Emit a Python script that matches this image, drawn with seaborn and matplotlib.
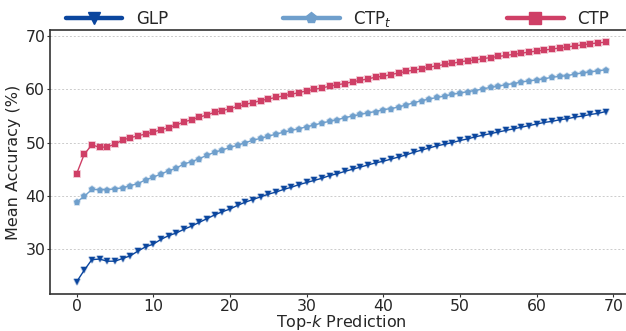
import numpy as np
import pandas as pd
import matplotlib
matplotlib.use("Agg")
import matplotlib.pyplot as plt
from matplotlib.lines import Line2D
import seaborn as sns

k = list(range(70))
glp = [23.8, 26.0, 28.0, 28.1, 27.7, 27.7, 28.2, 28.7, 29.6, 30.4,
       30.9, 31.8, 32.5, 33.0, 33.7, 34.3, 35.0, 35.7, 36.4, 37.0,
       37.5, 38.2, 38.8, 39.3, 39.8, 40.3, 40.7, 41.2, 41.6, 42.1,
       42.5, 42.9, 43.3, 43.8, 44.15, 44.6, 45.0, 45.4, 45.8, 46.2,
       46.5, 46.9, 47.3, 47.7, 48.2, 48.6, 49.0, 49.4, 49.7, 50.0,
       50.4, 50.7, 51.1, 51.4, 51.7, 52.0, 52.3, 52.6, 52.9, 53.2,
       53.5, 53.8, 54.0, 54.3, 54.5, 54.8, 55.0, 55.3, 55.5, 55.85]
ctp_t = [38.8, 39.9, 41.2, 41.15, 41.15, 41.3, 41.5, 41.9, 42.3, 43.0,
         43.5, 44.1, 44.7, 45.2, 46.0, 46.4, 47.0, 47.6, 48.2, 48.6,
         49.1, 49.5, 50.0, 50.45, 50.8, 51.2, 51.6, 51.95, 52.3, 52.6,
         53.0, 53.3, 53.7, 54.0, 54.3, 54.7, 55.0, 55.3, 55.6, 55.85,
         56.2, 56.4, 56.7, 57.1, 57.5, 57.9, 58.2, 58.5, 58.75, 59.1,
         59.3, 59.6, 59.8, 60.1, 60.4, 60.6, 60.9, 61.1, 61.4, 61.6,
         61.8, 62.0, 62.3, 62.45, 62.6, 62.9, 63.1, 63.3, 63.5, 63.7]
ctp = [44.1, 47.8, 49.6, 49.1, 49.2, 49.7, 50.5, 50.9, 51.3, 51.6,
       52.0, 52.4, 52.8, 53.3, 53.9, 54.3, 54.8, 55.2, 55.7, 56.0,
       56.4, 56.8, 57.2, 57.5, 57.9, 58.2, 58.5, 58.8, 59.1, 59.4,
       59.75, 60.0, 60.3, 60.6, 60.9, 61.1, 61.45, 61.7, 62.0, 62.3,
       62.5, 62.8, 63.1, 63.4, 63.65, 63.9, 64.2, 64.45, 64.7, 64.9,
       65.2, 65.4, 65.55, 65.8, 66.0, 66.2, 66.4, 66.6, 66.8, 67.05,
       67.2, 67.4, 67.6, 67.8, 68.0, 68.2, 68.4, 68.6, 68.75, 68.9]

series_names = ["GLP", "CTP$_t$", "CTP"]
series_vals = [glp, ctp_t, ctp]
colors = ["#0b469e", "#6f9fcc", "#cf3f66"]
markers = ["v", "p", "s"]

sns.set_style("ticks")
plt.rcParams['font.family'] = ['DejaVu Sans']

fig = plt.figure(figsize=(6.26, 3.31), dpi=100)
ax = fig.add_axes([0.08, 0.112, 0.93, 0.797])

for name, vals, c, m in zip(series_names, series_vals, colors, markers):
    df = pd.DataFrame({"k": k, "acc": vals})
    sns.lineplot(data=df, x="k", y="acc", ax=ax, color=c, marker=m,
                 markersize=4.5, linewidth=1.0,
                 markeredgecolor=matplotlib.colors.to_rgba(c, 0.35),
                 markeredgewidth=1.2, legend=False)

ax.set_xticks([0, 10, 20, 30, 40, 50, 60, 70])
ax.set_yticks([30, 40, 50, 60, 70])
ax.tick_params(axis='both', labelsize=11.3, length=2.5, pad=1,
               color='#333333')
ax.grid(axis='y', linestyle=(0, (2, 2)), color='#cccccc', linewidth=0.7)
ax.set_xlabel("Top-$k$ Prediction", fontsize=11.5, labelpad=-0.5)
ax.set_ylabel("Mean Accuracy (%)", fontsize=11.5, labelpad=3)
for s in ["left", "bottom", "top"]:
    ax.spines[s].set_visible(True)
    ax.spines[s].set_color('#333333')
    ax.spines[s].set_linewidth(1.2)
ax.spines["right"].set_visible(False)

handles = [Line2D([0], [0], color=c, marker=m, linewidth=3.2, markersize=8)
           for c, m in zip(colors, markers)]
fig.legend(handles, series_names, loc='center left', ncol=3,
           bbox_to_anchor=(0.105, 0.943), frameon=False, fontsize=12,
           handlelength=3.4, handletextpad=0.8, columnspacing=6.9,
           borderaxespad=0, borderpad=0)

fig.savefig("out.png", dpi=100)
